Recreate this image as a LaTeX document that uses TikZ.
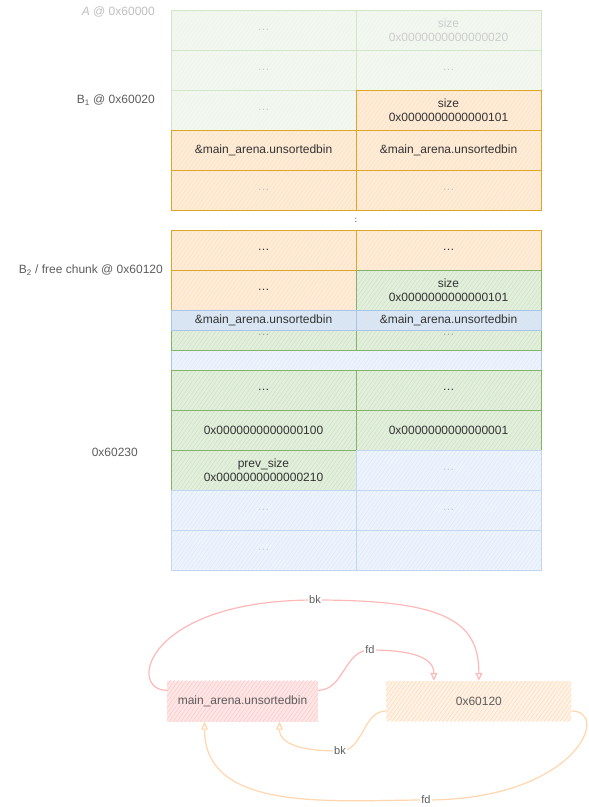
\documentclass[tikz,border=0pt]{standalone}
\usepackage{fontspec}
\setmainfont{Liberation Sans}
\usepackage{xcolor}
\usepackage{tikz}
\usetikzlibrary{arrows.meta, positioning, fit, backgrounds, patterns.meta}
\definecolor{HP_GREEN}{HTML}{82B366}
\definecolor{HP_GREENF}{HTML}{E2EFDD}
\definecolor{HP_ORANGE}{HTML}{E0A526}
\definecolor{HP_ORANGEF}{HTML}{FFEBD8}
\definecolor{HP_BLUE}{HTML}{A9C4EB}
\definecolor{HP_BLUEF}{HTML}{EEF4FD}
\definecolor{HP_STRIP}{HTML}{DAE6F1}
\definecolor{HP_RED}{HTML}{FFB8B8}
\definecolor{HP_REDF}{HTML}{FDE6E6}
\definecolor{HP_PEACH}{HTML}{FFD6AD}
\definecolor{HP_PEACHF}{HTML}{FFF3E8}
\definecolor{HP_TEXT}{HTML}{333333}
\definecolor{HP_GREY}{HTML}{5C5C5C}
\tikzset{
  hatch/.style 2 args={preaction={fill=#1},
    preaction={pattern={Lines[angle=55,distance=3.2pt,line width=0.45pt]},
      pattern color=#2}},
  cell/.style={
    rectangle, minimum width=185pt, minimum height=40pt,
    inner sep=0pt, outer sep=0pt, align=center, line width=1pt,
    text=HP_TEXT, font=\fontsize{12}{14}\selectfont},
  grn/.style={cell, draw=HP_GREEN, hatch={HP_GREENF}{HP_GREEN!40}},
  fgrn/.style={cell, draw=HP_GREEN!35, hatch={HP_GREENF!45}{HP_GREEN!14},
    text=HP_TEXT!25},
  org/.style={cell, draw=HP_ORANGE, hatch={HP_ORANGEF}{HP_ORANGE!30}},
  fblu/.style={cell, draw=HP_BLUE!70, text=HP_TEXT!25},
  bstrip/.style={cell, minimum height=20pt, draw=HP_BLUE,
    hatch={HP_STRIP}{HP_BLUE!45}},
  blubg/.style={rectangle, inner sep=0pt, outer sep=0pt, line width=1pt,
    draw=HP_BLUE, hatch={HP_BLUEF}{HP_BLUE!40}},
  addr/.style={inner sep=0pt, text=HP_GREY, font=\fontsize{12}{14}\selectfont},
  ubin/.style={rectangle, minimum width=151pt, minimum height=41pt,
    hatch={HP_REDF}{HP_RED!80}, text=HP_GREY,
    font=\fontsize{12}{14}\selectfont},
  chk/.style={rectangle, minimum width=185pt, minimum height=40pt,
    hatch={HP_PEACHF}{HP_PEACH}, text=HP_GREY,
    font=\fontsize{12}{14}\selectfont},
  rlink/.style={-{Triangle[open,length=8pt,width=7pt]}, line width=1.2pt, draw=HP_RED},
  olink/.style={-{Triangle[open,length=8pt,width=7pt]}, line width=1.2pt, draw=HP_PEACH},
  lnk/.style={fill=white, inner sep=1.5pt, text=HP_GREY,
    font=\fontsize{11}{13}\selectfont},
}

\begin{document}
\begin{tikzpicture}[x=1pt, y=-1pt, node distance=0pt]
  \useasboundingbox (0,0) rectangle (589,807);

  % chunk A and B1
  \node[fgrn] (a1) at (263.5,30) {\dots};
  \node[fgrn, right=of a1] (b1) {size\\0x0000000000000020};
  \node[fgrn, below=of a1] (a2) {\dots};
  \node[fgrn, right=of a2] (b2) {\dots};
  \node[fgrn, below=of a2] (a3) {\dots};
  \node[org, right=of a3] (b3) {size\\0x0000000000000101};
  \node[org, below=of a3] (a4) {\&main\_arena.unsortedbin};
  \node[org, right=of a4] (b4) {\&main\_arena.unsortedbin};
  \node[org, below=of a4, text=HP_TEXT!30] (a5) {\dots};
  \node[org, right=of a5, text=HP_TEXT!30] (b5) {\dots};

  \node[below=of a5.south east, minimum height=20pt, inner sep=0pt,
    font=\fontsize{8}{8}\selectfont] (skip) {:};

  % B2 / free chunk
  \node[org, below=20pt of a5] (a6) {\dots};
  \node[org, right=of a6] (b6) {\dots};
  \node[org, below=of a6] (a7) {\dots};
  \node[grn, right=of a7] (b7) {size\\0x0000000000000101};
  \node[grn, below=of a7,
    label={[text=HP_TEXT!45, font=\fontsize{12}{14}\selectfont, yshift=-5pt]center:\dots}] (a8) {};
  \node[grn, right=of a8,
    label={[text=HP_TEXT!45, font=\fontsize{12}{14}\selectfont, yshift=-5pt]center:\dots}] (b8) {};
  \node[bstrip, below=of a7] (s8) {\&main\_arena.unsortedbin};
  \node[bstrip, right=of s8] (t8) {\&main\_arena.unsortedbin};

  \node[below=of a8.south east, minimum height=20pt, inner sep=0pt,
    text=HP_TEXT!20, font=\fontsize{8}{8}\selectfont] (gap) {:};

  \node[grn, below=20pt of a8] (a10) {\dots};
  \node[grn, right=of a10] (b10) {\dots};
  \node[grn, below=of a10] (a11) {0x0000000000000100};
  \node[grn, right=of a11] (b11) {0x0000000000000001};
  \node[grn, below=of a11] (a12) {prev\_size\\0x0000000000000210};
  \node[fblu, right=of a12] (b12) {\dots};
  \node[fblu, below=of a12] (a13) {\dots};
  \node[fblu, right=of a13] (b13) {\dots};
  \node[fblu, below=of a13] (a14) {\dots};
  \node[fblu, right=of a14] (b14) {};

  \begin{scope}[on background layer]
    \node[blubg, fit=(a6)(b14)] (bchunk) {};
  \end{scope}

  % addresses
  \node[addr, text=HP_GREY!40, anchor=east] (labA)
    at ([xshift=-16pt,yshift=-2pt]a1.north west) {\textit{A} @ 0x60000};
  \node[addr, anchor=east] (labB1)
    at ([xshift=-16pt,yshift=-10pt]a3.north west) {B\textsubscript{1} @ 0x60020};
  \node[addr, anchor=east] (labB2)
    at ([xshift=-8pt]a7.north west) {B\textsubscript{2} / free chunk @ 0x60120};
  \node[addr, anchor=east] (labTop)
    at ([xshift=-33pt,yshift=-2pt]a12.north west) {0x60230};

  % unsorted bin list
  \node[ubin] (ub) at (242.5,701) {main\_arena.unsortedbin};
  \node[chk, right=68pt of ub] (ch) {0x60120};

  \coordinate (bkT) at (315,600);
  \coordinate (fdT) at (370,650);
  \coordinate (bkB) at (340,751);
  \coordinate (fdB) at (426,800);

  \draw[rlink] ([yshift=-10pt]ub.north west) .. controls +(-40,0) and +(-170,0) .. (bkT)
    node[lnk]{bk} .. controls +(130,0) and +(0,-60) .. (ch.north);
  \draw[rlink] ([yshift=-10pt]ub.north east) to[out=0,in=180] (fdT)
    node[lnk]{fd} to[out=0,in=90] ([xshift=-45pt]ch.north);
  \draw[olink] ([yshift=-10pt]ch.west) to[out=180,in=0] (bkB)
    node[lnk]{bk} to[out=180,in=-90] ([xshift=37pt]ub.south);
  \draw[olink] ([yshift=-10pt]ch.east) .. controls +(40,0) and +(150,0) .. (fdB)
    node[lnk]{fd} to[out=180,in=-90] ([xshift=-38pt]ub.south);

\end{tikzpicture}
\end{document}
